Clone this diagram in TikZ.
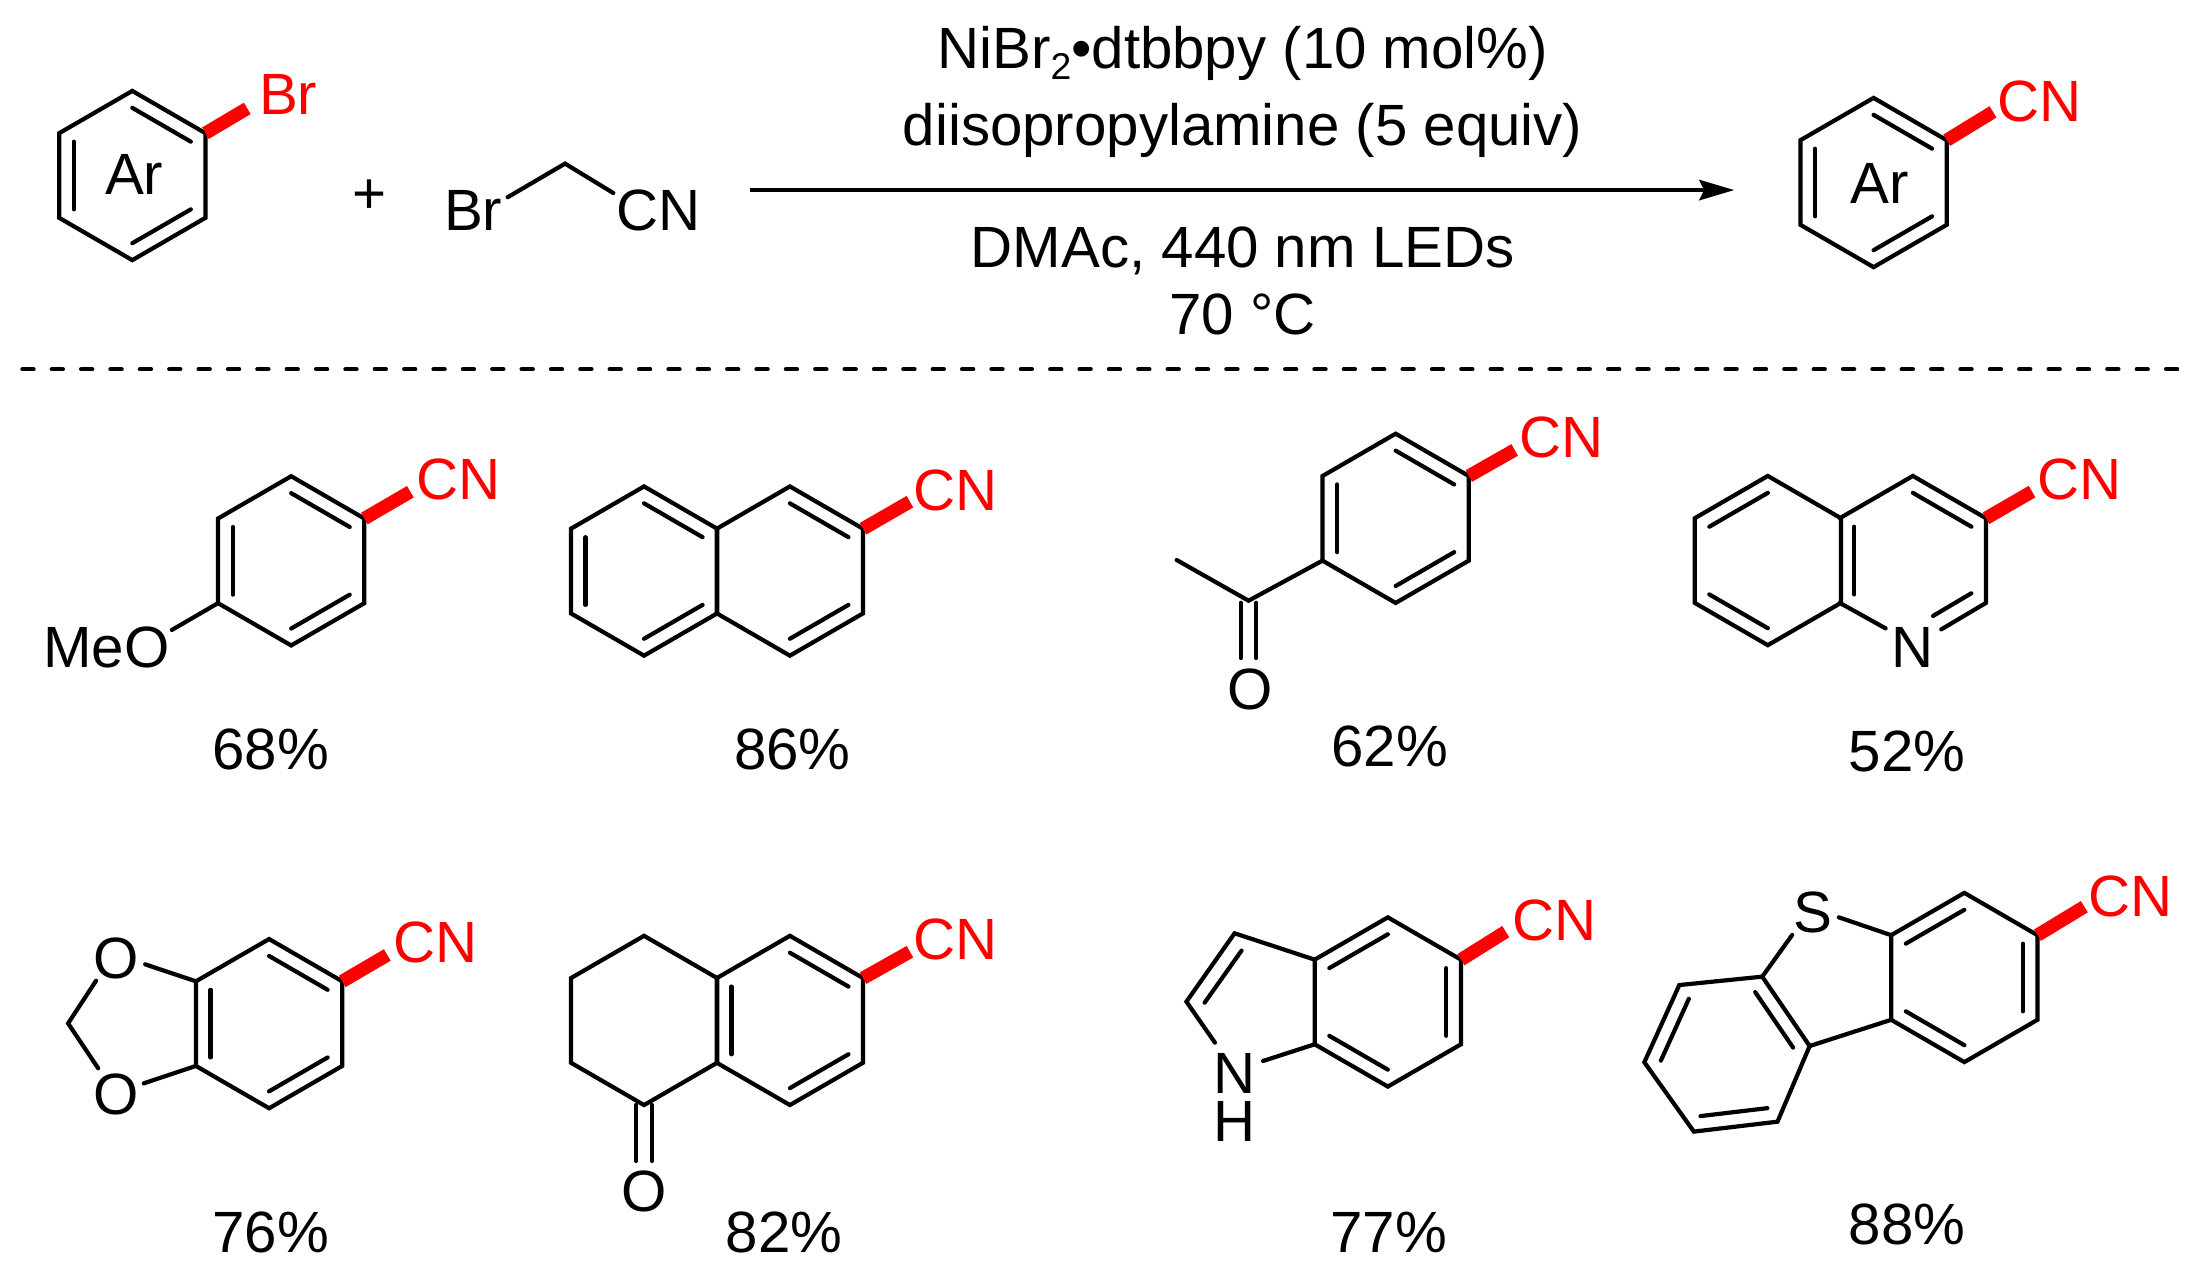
\documentclass[tikz,border=0pt]{standalone}
\usepackage{fontspec}
\setmainfont{Liberation Sans}
\usetikzlibrary{calc,arrows.meta}
\definecolor{pure}{HTML}{FF0000}
\tikzset{
  bond/.style={line width=0.06cm,line cap=round,line join=miter,black},
  redbond/.style={line width=0.19cm,line cap=butt,pure},
  lbl/.style={inner sep=0pt,outer sep=0pt,font=\fontsize{23.7}{28}\selectfont},
  redlbl/.style={lbl,text=pure,xshift=-0.035cm},
  sep/.style={line width=0.06cm,line cap=round,dash pattern=on 0.16cm off 0.26cm},
  rxn/.style={line width=0.06cm,-{Stealth[length=0.5cm,width=0.29cm,inset=0.07cm]}}
}
\newcommand{\hexa}[3]{%
  \coordinate (#1c) at (#2,#3);
  \coordinate (#1t) at (#2,#3-60.5);
  \coordinate (#1b) at (#2,#3+60.5);
  \coordinate (#1tr) at (#2+52.3,#3-30.25);
  \coordinate (#1br) at (#2+52.3,#3+30.25);
  \coordinate (#1tl) at (#2-52.3,#3-30.25);
  \coordinate (#1bl) at (#2-52.3,#3+30.25);
}
\newcommand{\ring}[1]{\draw[bond] (#1t)--(#1tr)--(#1br)--(#1b)--(#1bl)--(#1tl)--cycle;}
\newcommand{\dbl}[3]{\draw[bond] ($(#1c)!.8!(#1#2)$)--($(#1c)!.8!(#1#3)$);}
\newcommand{\cnbond}[4]{% ring, end x, end y, vertex
  \coordinate (#1red) at (#2,#3);
  \draw[redbond] (#1#4)--(#1red);
}
\begin{document}
\begin{tikzpicture}[x=0.02cm,y=-0.02cm]
\useasboundingbox (0,0) rectangle (1568,910.2);

% --- reaction scheme
\hexa{A}{94.6}{125.5}\ring{A}\dbl{A}{t}{tr}\dbl{A}{br}{b}\dbl{A}{tl}{bl}
\cnbond{A}{176.8}{77.5}{tr}
\node[redlbl,anchor=base west] (brA) at (187,82) {Br};
\node[lbl,anchor=base] (arA) at (96,139.4) {Ar};
\node[lbl] (plus) at (264,140.6) {+};

\coordinate (c1) at (404,117);
\node[lbl,anchor=base west] (brB) at (317.5,165) {Br};
\node[lbl,anchor=base west] (cnB) at (441,165) {CN};
\coordinate (c0) at (363,141);
\coordinate (c2) at (438.5,138);
\draw[bond] (c0)--(c1)--(c2);

\coordinate (arrowL) at (536.5,135.9);
\coordinate (arrowR) at (1240,135.9);
\draw[rxn] (arrowL)--(arrowR);
\node[lbl,anchor=base] (cond1) at (888.5,48.9) {NiBr\raisebox{-4.7pt}{\fontsize{15.2}{15}\selectfont 2}•dtbbpy (10 mol\%)};
\node[lbl,anchor=base] (cond2) at (888.5,103.7) {diisopropylamine (5 equiv)};
\node[lbl,anchor=base] (cond3) at (888.5,191.4) {DMAc, 440 nm LEDs};
\node[lbl,anchor=base] (cond4) at (888.5,239) {70 °C};

\hexa{P}{1339.6}{130.5}\ring{P}\dbl{P}{t}{tr}\dbl{P}{br}{b}\dbl{P}{tl}{bl}
\cnbond{P}{1425}{80}{tr}
\node[redlbl,anchor=base west] (cnP) at (1430,87) {CN};
\node[lbl,anchor=base] (arP) at (1344,145.4) {Ar};

\coordinate (sepL) at (16,264);
\coordinate (sepR) at (1558,264);
\draw[sep] (sepL)--(sepR);

% --- 68 %
\hexa{M}{208.2}{401}\ring{M}\dbl{M}{t}{tr}\dbl{M}{br}{b}\dbl{M}{tl}{bl}
\cnbond{M}{293.4}{351.6}{tr}
\node[redlbl,anchor=base west] (cn1) at (299.5,357) {CN};
\node[lbl,anchor=base west] (meo) at (31,477) {MeO};
\coordinate (meoE) at (122.9,450.4);
\draw[bond] (Mbl)--(meoE);
\node[lbl,anchor=base] (y1) at (193.5,550.5) {68\%};

% --- 86 %
\hexa{N}{564.8}{408.3}\hexa{O}{460.5}{408.3}
\ring{N}\ring{O}
\dbl{O}{t}{tr}\dbl{O}{tl}{bl}\dbl{O}{br}{b}\dbl{N}{t}{tr}\dbl{N}{br}{b}
\cnbond{N}{650.6}{358.7}{tr}
\node[redlbl,anchor=base west] (cn2) at (655,365.1) {CN};
\node[lbl,anchor=base] (y2) at (566.5,550.5) {86\%};

% --- 62 %
\hexa{Q}{997.9}{370.6}\ring{Q}\dbl{Q}{t}{tr}\dbl{Q}{br}{b}\dbl{Q}{tl}{bl}
\cnbond{Q}{1083}{321.7}{tr}
\node[redlbl,anchor=base west] (cn3) at (1088,327.2) {CN};
\coordinate (qC) at (892.7,429.5);
\coordinate (qMe) at (841.3,400.4);
\draw[bond] (Qbl)--(qC)--(qMe);
\coordinate (qO1a) at (887.2,431);\coordinate (qO1b) at (887.2,470.5);
\coordinate (qO2a) at (898.2,431);\coordinate (qO2b) at (898.2,470.5);
\draw[bond] (qO1a)--(qO1b);
\draw[bond] (qO2a)--(qO2b);
\node[lbl,anchor=base] (oQ) at (893.5,507) {O};
\node[lbl,anchor=base] (y3) at (993.5,547.7) {62\%};

% --- 52 %
\hexa{R}{1264}{400.8}\hexa{S}{1367.7}{400.8}
\ring{R}
\draw[bond] (Stl)--(St)--(Str)--(Sbr);
\dbl{R}{tl}{t}\dbl{R}{bl}{b}\dbl{S}{tl}{bl}\dbl{S}{t}{tr}
\coordinate (sN1) at (1348.2,449.3);
\coordinate (sN2) at (1388,450);
\coordinate (sD1) at (1409.5,424.2);
\coordinate (sD2) at (1382.1,440.4);
\draw[bond] (Sbl)--(sN1);
\draw[bond] (Sbr)--(sN2);
\draw[bond] (sD1)--(sD2);
\cnbond{S}{1452.9}{351.5}{tr}
\node[redlbl,anchor=base west] (cn4) at (1458.3,357) {CN};
\node[lbl,anchor=base] (nS) at (1367.7,477) {N};
\node[lbl,anchor=base] (y4) at (1363.5,551.3) {52\%};

% --- 76 %
\hexa{T}{192.4}{731.9}\ring{T}\dbl{T}{t}{tr}\dbl{T}{br}{b}\dbl{T}{tl}{bl}
\cnbond{T}{276.9}{682.8}{tr}
\node[redlbl,anchor=base west] (cn5) at (282.9,688.3) {CN};
\node[lbl,anchor=base] (o5a) at (82.8,699.5) {O};
\node[lbl,anchor=base] (o5b) at (82.8,797.2) {O};
\coordinate (tCH) at (48.7,731.7);
\coordinate (tA) at (68.7,701.2);
\coordinate (tB) at (70.2,763.8);
\coordinate (tC) at (103.8,689.5);
\coordinate (tD) at (102.8,774.6);
\draw[bond] (tA)--(tCH)--(tB);
\draw[bond] (Ttl)--(tC);
\draw[bond] (Tbl)--(tD);
\node[lbl,anchor=base] (y5) at (193.5,895.7) {76\%};

% --- 82 %
\hexa{U}{564.8}{729.6}\hexa{V}{460.5}{729.6}
\ring{U}\ring{V}
\dbl{U}{t}{tr}\dbl{U}{br}{b}\dbl{U}{tl}{bl}
\cnbond{U}{650.6}{680.5}{tr}
\node[redlbl,anchor=base west] (cn6) at (655,685.9) {CN};
\coordinate (vO1a) at (455,790);\coordinate (vO1b) at (455,830.1);
\coordinate (vO2a) at (466,790);\coordinate (vO2b) at (466,830.1);
\draw[bond] (vO1a)--(vO1b);
\draw[bond] (vO2a)--(vO2b);
\node[lbl,anchor=base] (oV) at (460.5,866.3) {O};
\node[lbl,anchor=base] (y6) at (560.5,895.7) {82\%};

% --- 77 %
\hexa{W}{992.3}{716.4}\ring{W}\dbl{W}{t}{tl}\dbl{W}{tr}{br}\dbl{W}{bl}{b}
\cnbond{W}{1076.6}{666.1}{tr}
\node[redlbl,anchor=base west] (cn7) at (1083,672.8) {CN};
\coordinate (wC3) at (882.7,667.3);
\coordinate (wC2) at (848.3,716.2);
\coordinate (wN1) at (868.7,745.5);
\coordinate (wN2) at (903.1,758.6);
\coordinate (wI1) at (887.7,679.7);
\coordinate (wI2) at (861.3,716.9);
\draw[bond] (Wtl)--(wC3)--(wC2)--(wN1);
\draw[bond] (Wbl)--(wN2);
\draw[bond] (wI1)--(wI2);
\node[lbl,anchor=base] (nW) at (882.7,781.7) {N};
\node[lbl,anchor=base] (hW) at (882.7,816.3) {H};
\node[lbl,anchor=base] (y7) at (993,895.7) {77\%};

% --- 88 %
\hexa{X}{1404.5}{698.9}\ring{X}\dbl{X}{t}{tl}\dbl{X}{tr}{br}\dbl{X}{bl}{b}
\cnbond{X}{1490.3}{648.3}{tr}
\node[redlbl,anchor=base west] (cn8) at (1494.7,655.4) {CN};
\node[lbl,anchor=base] (sX) at (1295.9,666.6) {S};
\coordinate (Yc) at (1234.8,753.6);
\coordinate (Ya) at (1260,698.3);
\coordinate (Yb) at (1293.9,747.9);
\coordinate (Yd) at (1270.9,802);
\coordinate (Ye) at (1211.1,809.1);
\coordinate (Yf) at (1175.7,759.5);
\coordinate (Yg) at (1200.7,704.3);
\draw[bond] (Ya)--(Yb)--(Yd)--(Ye)--(Yf)--(Yg)--cycle;
\dbl{Y}{a}{b}\dbl{Y}{d}{e}\dbl{Y}{f}{g}
\coordinate (xS1) at (1314.8,655.9);
\coordinate (xS2) at (1281.4,668.5);
\draw[bond] (Xtl)--(xS1);
\draw[bond] (Ya)--(xS2);
\draw[bond] (Yb)--(Xbl);
\node[lbl,anchor=base] (y8) at (1363.5,889.5) {88\%};
\end{tikzpicture}
\end{document}
